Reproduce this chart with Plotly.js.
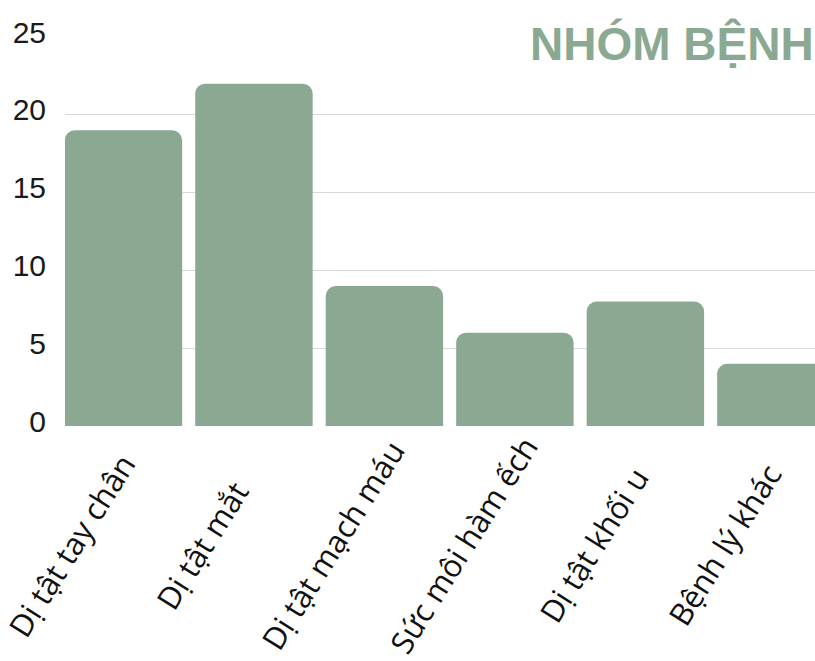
<!DOCTYPE html>
<html>
<head>
<meta charset="utf-8">
<script src="https://cdn.plot.ly/plotly-3.0.1.min.js"></script>
<style>html,body{margin:0;padding:0;background:#fff;overflow:hidden}</style>
</head>
<body>
<div id="chart" style="width:815px;height:661px"></div>
<script>
const categories = ["Dị tật tay chân", "Dị tật mắt", "Dị tật mạch máu", "Sức môi hàm ếch", "Dị tật khối u", "Bệnh lý khác"];
const values = [19, 22, 9, 6, 8, 4];
const yTicks = [0, 5, 10, 15, 20, 25];
const chartTitle = "NHÓM BỆNH";

const green = "#8ba892";

const labelAnnotations = categories.map(c => ({
  x: c, xref: "x", y: -0.305, yref: "paper",
  text: c, showarrow: false, textangle: -58,
  xanchor: "center", yanchor: "middle", xshift: -52,
  font: {family: "Open Sans, Noto Sans, sans-serif", size: 31, color: "#111"}
}));

const data = [{
  type: "bar",
  x: categories,
  y: values,
  marker: {color: green, cornerradius: 10},
  hoverinfo: "none"
}];

const layout = {
  width: 815, height: 661,
  margin: {l: 65, r: 0, t: 37, b: 235, pad: 0},
  paper_bgcolor: "#fff", plot_bgcolor: "#fff",
  bargap: 0.1,
  showlegend: false,
  xaxis: {
    type: "category",
    range: [-0.448, 5.3],
    showticklabels: false, showgrid: false, zeroline: false, showline: false, ticks: ""
  },
  yaxis: {
    range: [0, 25],
    tickvals: yTicks,
    ticktext: yTicks.map(String),
    showgrid: true, gridcolor: "#d9d9d9", gridwidth: 1,
    zeroline: false, showline: false, ticks: "",
    ticklabelstandoff: 18,
    ticklabelshift: -5,
    tickfont: {family: "Liberation Sans, Arial, sans-serif", size: 30, color: "#1a1a1a"}
  },
  annotations: [{
    x: 1, xref: "paper", xanchor: "right", xshift: 1,
    y: 0.982, yref: "paper", yanchor: "middle",
    text: "<b>" + chartTitle + "</b>", showarrow: false,
    font: {family: "Liberation Sans, Arial, sans-serif", size: 46, color: green}
  }].concat(labelAnnotations)
};

Plotly.newPlot("chart", data, layout, {displayModeBar: false, staticPlot: true});
</script>
</body>
</html>
